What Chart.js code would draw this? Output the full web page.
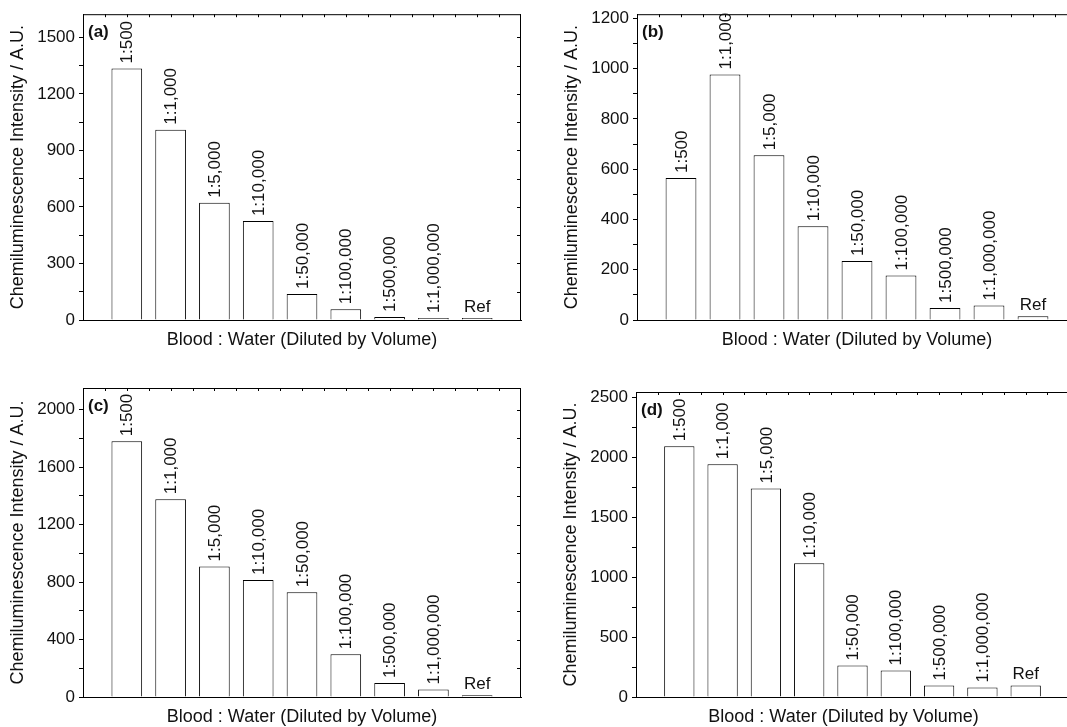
<!DOCTYPE html>
<html>
<head>
<meta charset="utf-8">
<script src="https://cdn.jsdelivr.net/npm/chart.js@4.4.1/dist/chart.umd.min.js"></script>
<style>
    html, body { margin: 0; padding: 0; background: #fff; overflow: hidden; width: 1067px; height: 727px; }
    canvas { position: absolute; }
</style>
</head>
<body>
<script>
// Data
const dilutions = ['1:500', '1:1,000', '1:5,000', '1:10,000', '1:50,000', '1:100,000', '1:500,000', '1:1,000,000', 'Ref'];
const intensityA = [1335, 1010, 622, 525, 138, 57, 16, 10, 10];
const intensityB = [565, 977, 656, 373, 235, 177, 48, 58, 15];
const intensityC = [1780, 1377, 909, 814, 730, 297, 97, 53, 12];
const intensityD = [2095, 1944, 1742, 1117, 264, 222, 97, 80, 97];
const ticksA = [0, 300, 600, 900, 1200, 1500];
const ticksB = [0, 200, 400, 600, 800, 1000, 1200];
const ticksC = [0, 400, 800, 1200, 1600, 2000];
const ticksD = [0, 500, 1000, 1500, 2000, 2500];
const panelLetters = ['(a)', '(b)', '(c)', '(d)'];
const yMax = [1623, 1217, 2151, 2547];
const xTitle = 'Blood : Water (Diluted by Volume)';
const yTitle = 'Chemiluminescence Intensity / A.U.';

// Where each panel sits on the page (plot = left, top, right, bottom)
const boxes = [
    { left: 0,   top: 0,   width: 540, height: 360, plot: [83, 14, 521, 320], rightFrame: true },
    { left: 530, top: 0,   width: 550, height: 360, plot: [637, 13, 1077, 320], rightFrame: false },
    { left: 0,   top: 360, width: 540, height: 367, plot: [83, 388, 521, 697], rightFrame: true },
    { left: 530, top: 360, width: 550, height: 367, plot: [636, 392, 1069, 697], rightFrame: false }
];

const FONT = "'Liberation Sans', Arial, sans-serif";
Chart.defaults.font.family = FONT;
Chart.defaults.font.size = 17;
Chart.defaults.color = '#111';

// Frame, inner ticks, bar labels and titles
const framePlugin = {
    id: 'frame',
    afterDatasetsDraw(chart, args, opts) {
        const ctx = chart.ctx;
        const { left, right, top, bottom } = chart.chartArea;
        const xs = chart.scales.x, ys = chart.scales.y;
        ctx.save();
        ctx.strokeStyle = '#000';
        ctx.lineWidth = 1;

        // top border with small inward ticks every half category
        ctx.beginPath();
        ctx.moveTo(left, top + 0.5);
        ctx.lineTo(right, top + 0.5);
        const n = chart.data.labels.length;
        for (let i = 0; i < n - 1; i++) {
            const a = xs.getPixelForValue(i), b = xs.getPixelForValue(i + 1);
            [a, (a + b) / 2].forEach(px => {
                ctx.moveTo(Math.round(px) + 0.5, top);
                ctx.lineTo(Math.round(px) + 0.5, top + 3);
            });
        }
        if (opts.rightFrame) {
            ctx.moveTo(right - 0.5, top);
            ctx.lineTo(right - 0.5, bottom);
            ys.ticks.forEach(t => {
                const py = Math.round(ys.getPixelForValue(t.value)) + 0.5;
                ctx.moveTo(right, py);
                ctx.lineTo(right - 4, py);
            });
        }
        ctx.stroke();

        // labels above bars
        const meta = chart.getDatasetMeta(0);
        ctx.fillStyle = '#111';
        ctx.font = '17px ' + FONT;
        meta.data.forEach((bar, i) => {
            const label = chart.data.labels[i];
            const v = chart.data.datasets[0].data[i];
            if (!label || v === null) return;
            if (label === 'Ref') {
                ctx.textAlign = 'center';
                ctx.textBaseline = 'alphabetic';
                ctx.fillText(label, bar.x, bar.y - 6);
            } else {
                ctx.save();
                ctx.translate(bar.x, bar.y - 5);
                ctx.rotate(-Math.PI / 2);
                ctx.textAlign = 'left';
                ctx.textBaseline = 'middle';
                ctx.fillText(label, 0, 1);
                ctx.restore();
            }
        });

        // panel letter
        ctx.font = 'bold 17px ' + FONT;
        ctx.textAlign = 'left';
        ctx.textBaseline = 'middle';
        ctx.fillText(opts.letter, left + 5, top + 18);

        // axis titles
        ctx.font = '18px ' + FONT;
        ctx.textAlign = 'center';
        ctx.fillText(xTitle, (left + right) / 2 + opts.titleShift, bottom + 20);
        ctx.save();
        ctx.translate(left - 65, (top + bottom) / 2);
        ctx.rotate(-Math.PI / 2);
        ctx.fillText(yTitle, 0, 0);
        ctx.restore();

        ctx.restore();
    }
};

function makePanel(values, majorTicks, k, titleShift) {
    const box = boxes[k];
    const canvas = document.createElement('canvas');
    canvas.width = box.width;
    canvas.height = box.height;
    canvas.style.left = box.left + 'px';
    canvas.style.top = box.top + 'px';
    document.body.appendChild(canvas);

    const yAxisWidth = box.plot[0] - box.left;
    const xAxisHeight = box.top + box.height - box.plot[3];

    return new Chart(canvas.getContext('2d'), {
        type: 'bar',
        data: {
            labels: [''].concat(dilutions, ['']),
            datasets: [{
                data: [null].concat(values, [null]),
                backgroundColor: '#fff',
                borderColor: '#000',
                borderWidth: 1,
                categoryPercentage: 1,
                barPercentage: 0.7
            }]
        },
        plugins: [framePlugin],
        options: {
            responsive: false,
            animation: false,
            layout: {
                padding: { left: 0, top: box.plot[1] - box.top, right: box.left + box.width - box.plot[2], bottom: 0 }
            },
            plugins: {
                legend: { display: false },
                tooltip: { enabled: false },
                frame: { letter: panelLetters[k], rightFrame: box.rightFrame, titleShift: titleShift }
            },
            scales: {
                x: {
                    offset: false,
                    grid: { display: false },
                    ticks: { display: false },
                    border: { display: true, color: '#000', width: 1 },
                    afterFit: s => { s.height = xAxisHeight; }
                },
                y: {
                    min: 0,
                    max: yMax[k],
                    grid: { display: true, drawOnChartArea: false, drawTicks: true, tickLength: 4, color: '#000' },
                    border: { display: true, color: '#000', width: 1 },
                    afterBuildTicks: s => {
                        // major ticks plus a minor tick half way between them
                        const half = (majorTicks[1] - majorTicks[0]) / 2;
                        const all = [];
                        majorTicks.forEach(v => {
                            all.push({ value: v });
                            if (v + half <= s.max) all.push({ value: v + half });
                        });
                        s.ticks = all;
                    },
                    ticks: {
                        autoSkip: false,
                        padding: 4,
                        color: '#111',
                        callback: v => (majorTicks.includes(v) ? String(v) : '')
                    },
                    afterFit: s => { s.width = yAxisWidth; }
                }
            }
        }
    });
}

makePanel(intensityA, ticksA, 0, 0);
makePanel(intensityB, ticksB, 1, 0);
makePanel(intensityC, ticksC, 2, 0);
makePanel(intensityD, ticksD, 3, -9);
</script>
</body>
</html>
